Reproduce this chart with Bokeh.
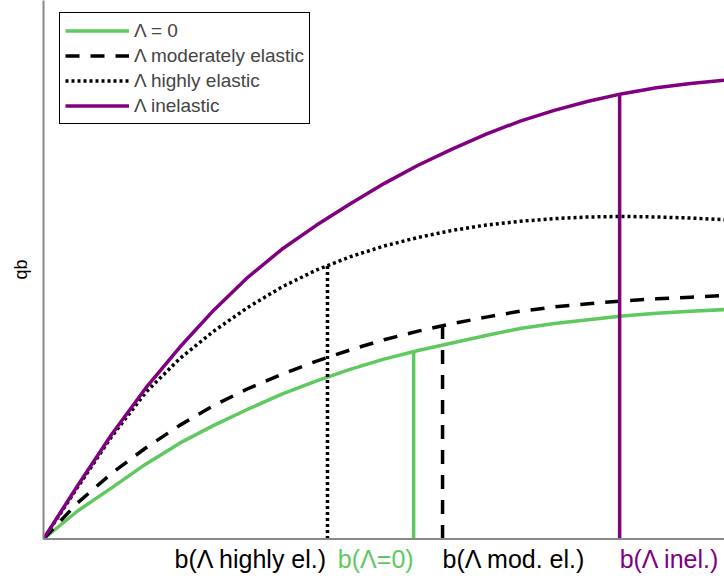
from bokeh.plotting import figure
from bokeh.models import Range1d, Legend, LegendItem, FixedTicker, ColumnDataSource, Span
from bokeh.core.properties import value
from bokeh.embed import file_html
from bokeh.resources import INLINE

# ---- data ----
b = [0, 0.5, 1, 1.5, 2, 2.5, 3, 3.5, 4, 4.5, 5, 5.5, 6, 6.5, 7, 7.5, 8, 8.5, 9, 9.5, 10]
qb_zero = [0, 0.52, 0.95, 1.39, 1.78, 2.11, 2.41, 2.69, 2.93, 3.15, 3.34, 3.50, 3.64, 3.78, 3.91, 4.00, 4.07, 4.14, 4.19, 4.23, 4.26]
qb_mod = [0, 0.67, 1.22, 1.69, 2.11, 2.48, 2.79, 3.06, 3.30, 3.51, 3.70, 3.86, 4.00, 4.12, 4.23, 4.31, 4.37, 4.42, 4.46, 4.49, 4.52]
qb_high = [0, 0.96, 1.90, 2.72, 3.35, 3.86, 4.30, 4.68, 4.99, 5.24, 5.44, 5.60, 5.73, 5.83, 5.90, 5.95, 5.98, 5.99, 5.98, 5.96, 5.93]
qb_inel = [0, 0.99, 1.94, 2.80, 3.56, 4.25, 4.86, 5.38, 5.82, 6.22, 6.60, 6.94, 7.24, 7.52, 7.76, 7.96, 8.13, 8.27, 8.38, 8.46, 8.52]

# optimal b for each case and the qb reached there
b_star = [4.17, 5.435, 5.86, 8.46]          # highly el., zero, mod. el., inel.
qb_star = [5.08, 3.48, 3.96, 8.26]
tick_labels = ["b(\u039b highly el.)", "b(\u039b=0)", "b(\u039b mod. el.)", "b(\u039b inel.)"]
legend_labels = ["\u039b = 0", "\u039b moderately elastic", "\u039b highly elastic", "\u039b inelastic"]
y_label = "qb"

GREEN = "#5fc95f"
PURPLE = "#800080"
BLACK = "#000000"
AXIS_GRAY = "#888888"
FONT = "Liberation Sans"

p = figure(width=724, height=578, output_backend="svg", toolbar_location=None,
           x_range=Range1d(0, 10.0), y_range=Range1d(-0.7335, 10.0),
           x_axis_location=None,
           min_border_left=43, min_border_right=0, min_border_top=0, min_border_bottom=0)
p.outline_line_color = None
p.xgrid.grid_line_color = None
p.ygrid.grid_line_color = None
p.background_fill_color = "white"
p.border_fill_color = "white"

ax = p.yaxis[0]
ax.ticker = FixedTicker(ticks=[])
ax.major_tick_line_color = None
ax.minor_tick_line_color = None
ax.axis_line_color = AXIS_GRAY
ax.axis_line_width = 2
ax.major_label_text_font_size = "0px"
ax.major_label_standoff = 0
ax.bounds = (0, 10.0)
# non-breaking spaces centre the visible label on the drawn part of the axis
ax.axis_label = "\u00a0" * 8 + y_label
ax.axis_label_text_font = FONT
ax.axis_label_text_font_style = "normal"
ax.axis_label_text_font_size = "18px"
ax.axis_label_standoff = 13
ax.axis_label_text_color = "black"

# horizontal (b) axis line at qb = 0
p.add_layout(Span(location=0, dimension="width", line_color=AXIS_GRAY, line_width=2))

LW = 3.5
r_zero = p.line(b, qb_zero, line_color=GREEN, line_width=LW)
r_mod = p.line(b, qb_mod, line_color=BLACK, line_width=LW, line_dash="14 11")
r_high = p.line(b, qb_high, line_color=BLACK, line_width=LW, line_dash="3 3")
r_inel = p.line(b, qb_inel, line_color=PURPLE, line_width=LW)

styles = [(BLACK, "3 3"), (GREEN, "solid"), (BLACK, "14 11"), (PURPLE, "solid")]
for xs, ys, (c, d) in zip(b_star, qb_star, styles):
    p.line([xs, xs], [0, ys], line_color=c, line_width=LW, line_dash=d)

lab_src = ColumnDataSource(dict(
    x=b_star, y=[0, 0, 0, 0], text=tick_labels,
    color=[BLACK, GREEN, BLACK, PURPLE],
    align=["right", "right", "left", "left"],
))
p.text(x="x", y="y", text="text", source=lab_src, text_color="color", text_align="align",
       text_baseline="alphabetic", y_offset=20, text_font=value(FONT), text_font_size="25px")

legend = Legend(items=[LegendItem(label=legend_labels[0], renderers=[r_zero]),
                       LegendItem(label=legend_labels[1], renderers=[r_mod]),
                       LegendItem(label=legend_labels[2], renderers=[r_high]),
                       LegendItem(label=legend_labels[3], renderers=[r_inel])],
                location=(16, 454))
legend.label_text_font = FONT
legend.label_text_font_size = "19px"
legend.glyph_width = 64
legend.glyph_height = 25
legend.label_height = 25
legend.label_standoff = 5
legend.padding = 5
legend.spacing = 0
legend.margin = 0
legend.border_line_color = "black"
legend.border_line_width = 1
legend.border_line_alpha = 1
legend.background_fill_alpha = 1
p.add_layout(legend)

open("out.html", "w").write(file_html(p, INLINE))
